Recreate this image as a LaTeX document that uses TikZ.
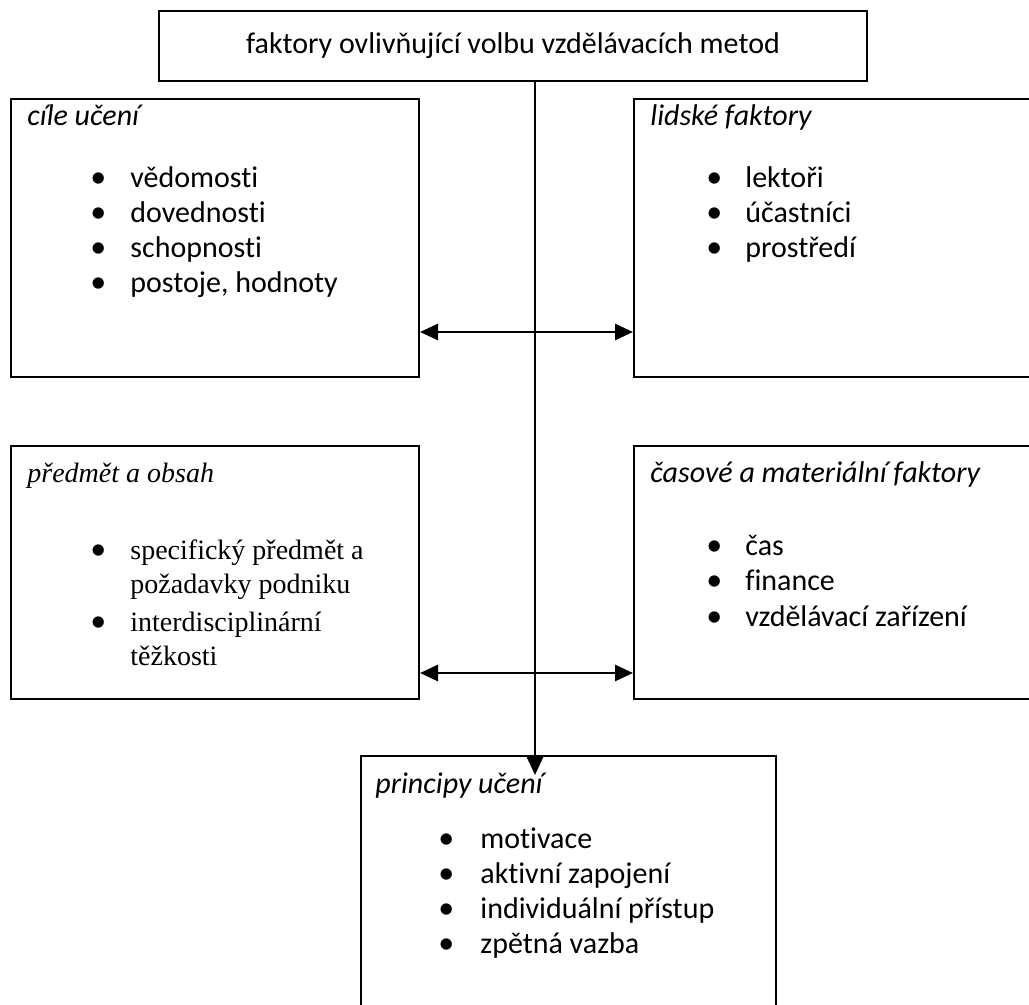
\documentclass[tikz,border=0pt]{standalone}
\usepackage{fontspec}
\setmainfont[Ligatures=NoCommon]{Carlito}
\newfontfamily\timesfont{Liberation Serif}
\usetikzlibrary{arrows.meta}

\begin{document}
\begin{tikzpicture}[x=0.5pt,y=-0.5pt,
    box/.style={draw,line width=1pt,rectangle,anchor=north west,inner sep=0pt},
    head/.style={anchor=base west,inner sep=0pt,font=\fontsize{15}{18}\selectfont\itshape},
    item/.style={anchor=base west,inner sep=0pt,font=\fontsize{15}{18}\selectfont},
    bul/.style={anchor=base west,inner sep=0pt,font=\fontsize{16}{18}\selectfont},
    thead/.style={head,font=\fontsize{14}{16}\timesfont\itshape},
    titem/.style={item,font=\fontsize{14}{16}\timesfont},
    link/.style={line width=1.4pt,-{Triangle[length=9pt,width=8pt]}},
    both/.style={line width=1.4pt,{Triangle[length=9pt,width=8pt]}-{Triangle[length=9pt,width=8pt]}}]
        \clip (0,0) rectangle (1029,1005);
        % boxes
        \node[box,minimum width=354pt,minimum height=35pt,font=\fontsize{15}{18}\selectfont] (top) at (158,10) {faktory ovlivňující volbu vzdělávacích metod};
        \node[box,minimum width=204pt,minimum height=139pt] (cile) at (10,98) {};
        \node[box,minimum width=210pt,minimum height=139pt] (lidske) at (633,98) {};
        \node[box,minimum width=204pt,minimum height=126.5pt] (predmet) at (10,445) {};
        \node[box,minimum width=210pt,minimum height=126.5pt] (casove) at (633,445) {};
        \node[box,minimum width=207.5pt,minimum height=135pt] (principy) at (360,755) {};
        % arrows
        \coordinate (tip) at (535,775);
        \coordinate (hubA) at (535,332);
        \coordinate (hubB) at (535,673);
        \draw[link] (top.south -| tip) -- (tip);
        \draw[both] (cile.east |- hubA) -- (lidske.west |- hubA);
        \draw[both] (predmet.east |- hubB) -- (casove.west |- hubB);
        % cile uceni
        \node[head] (cileh) at ([shift={(17,28)}]cile.north west) {cíle učení};
        \node[bul] (cileb1) at ([shift={(80,90)}]cile.north west) {•};
        \node[item] (cilet1) at ([shift={(120,90)}]cile.north west) {vědomosti};
        \node[bul] (cileb2) at ([shift={(80,125)}]cile.north west) {•};
        \node[item] (cilet2) at ([shift={(120,125)}]cile.north west) {dovednosti};
        \node[bul] (cileb3) at ([shift={(80,160)}]cile.north west) {•};
        \node[item] (cilet3) at ([shift={(120,160)}]cile.north west) {schopnosti};
        \node[bul] (cileb4) at ([shift={(80,195)}]cile.north west) {•};
        \node[item] (cilet4) at ([shift={(120,195)}]cile.north west) {postoje, hodnoty};
        % lidske faktory
        \node[head] (lidskeh) at ([shift={(17,28)}]lidske.north west) {lidské faktory};
        \node[bul] (lidskeb1) at ([shift={(73,90)}]lidske.north west) {•};
        \node[item] (lidsket1) at ([shift={(112,90)}]lidske.north west) {lektoři};
        \node[bul] (lidskeb2) at ([shift={(73,125)}]lidske.north west) {•};
        \node[item] (lidsket2) at ([shift={(112,125)}]lidske.north west) {účastníci};
        \node[bul] (lidskeb3) at ([shift={(73,160)}]lidske.north west) {•};
        \node[item] (lidsket3) at ([shift={(112,160)}]lidske.north west) {prostředí};
        % predmet a obsah
        \node[thead] (predmeth) at ([shift={(17,38)}]predmet.north west) {předmět a obsah};
        \node[bul] (predmetb1) at ([shift={(80,115)}]predmet.north west) {•};
        \node[titem] (predmett1) at ([shift={(120,115)}]predmet.north west) {specifický předmět a};
        \node[titem] (predmett2) at ([shift={(120,149)}]predmet.north west) {požadavky podniku};
        \node[bul] (predmetb2) at ([shift={(80,187)}]predmet.north west) {•};
        \node[titem] (predmett3) at ([shift={(120,187)}]predmet.north west) {interdisciplinární};
        \node[titem] (predmett4) at ([shift={(120,221)}]predmet.north west) {těžkosti};
        % casove a materialni faktory
        \node[head] (casoveh) at ([shift={(17,38)}]casove.north west) {časové a materiální faktory};
        \node[bul] (caseb1) at ([shift={(73,111)}]casove.north west) {•};
        \node[item] (caset1) at ([shift={(112,111)}]casove.north west) {čas};
        \node[bul] (caseb2) at ([shift={(73,146)}]casove.north west) {•};
        \node[item] (caset2) at ([shift={(112,146)}]casove.north west) {finance};
        \node[bul] (caseb3) at ([shift={(73,181)}]casove.north west) {•};
        \node[item] (caset3) at ([shift={(112,181)}]casove.north west) {vzdělávací zařízení};
        % principy uceni
        \node[head] (principyh) at ([shift={(15,38)}]principy.north west) {principy učení};
        \node[bul] (principyb1) at ([shift={(78,93)}]principy.north west) {•};
        \node[item] (principyt1) at ([shift={(120,93)}]principy.north west) {motivace};
        \node[bul] (principyb2) at ([shift={(78,128)}]principy.north west) {•};
        \node[item] (principyt2) at ([shift={(120,128)}]principy.north west) {aktivní zapojení};
        \node[bul] (principyb3) at ([shift={(78,163)}]principy.north west) {•};
        \node[item] (principyt3) at ([shift={(120,163)}]principy.north west) {individuální přístup};
        \node[bul] (principyb4) at ([shift={(78,198)}]principy.north west) {•};
        \node[item] (principyt4) at ([shift={(120,198)}]principy.north west) {zpětná vazba};
      \end{tikzpicture}
\end{document}
